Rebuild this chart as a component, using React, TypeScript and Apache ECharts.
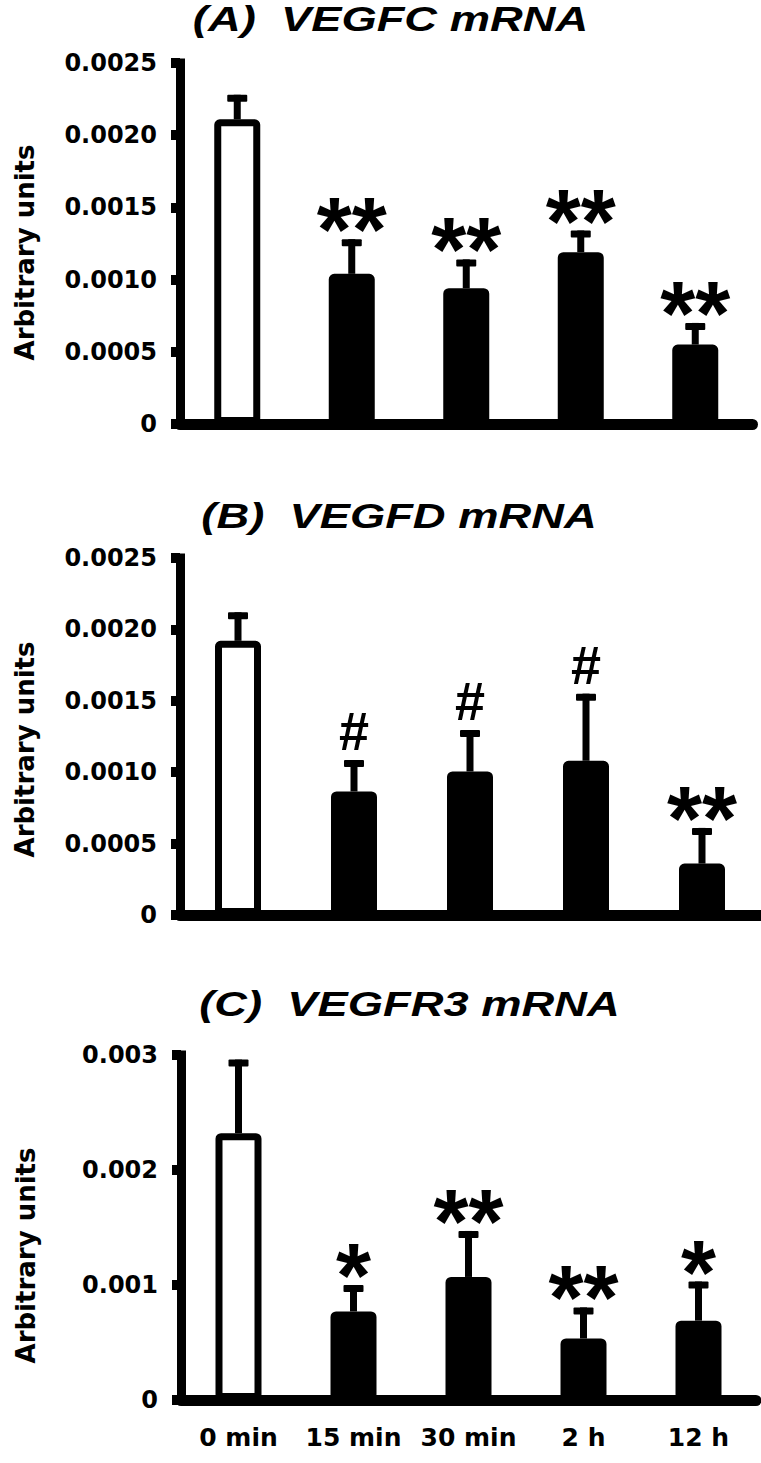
import React, { useEffect, useRef } from "react";
import * as echarts from "echarts";

// ---------- data ----------
const categories = ["0 min", "15 min", "30 min", "2 h", "12 h"];

const vegfcMean = [0.00211, 0.00104, 0.00094, 0.00119, 0.00055];
const vegfcErr = [0.00017, 0.00024, 0.0002, 0.00015, 0.00015];
const vegfcSig = ["", "**", "**", "**", "**"];

const vegfdMean = [0.00192, 0.000865, 0.001005, 0.00108, 0.00036];
const vegfdErr = [0.0002, 0.00022, 0.00029, 0.00047, 0.00025];
const vegfdSig = ["", "#", "#", "#", "**"];

const vegfr3Mean = [0.00232, 0.00077, 0.00107, 0.000535, 0.00069];
const vegfr3Err = [0.00064, 0.00023, 0.0004, 0.00027, 0.00034];
const vegfr3Sig = ["", "*", "**", "**", "*"];

const ticksAB = ["0", "0.0005", "0.0010", "0.0015", "0.0020", "0.0025"];
const ticksC = ["0", "0.001", "0.002", "0.003"];

const titles = ["(A)  VEGFC mRNA", "(B)  VEGFD mRNA", "(C)  VEGFR3 mRNA"];
const yName = "Arbitrary units";

// ---------- layout ----------
const panels = [
  {
    mean: vegfcMean, err: vegfcErr, sig: vegfcSig, ticks: ticksAB,
    max: 0.0025, interval: 0.0005,
    grid: { left: 180, top: 63, width: 572.5, height: 361 },
    titlePos: [390.5, 19], namePad: 18, showX: false,
  },
  {
    mean: vegfdMean, err: vegfdErr, sig: vegfdSig, ticks: ticksAB,
    max: 0.0025, interval: 0.0005,
    grid: { left: 180, top: 558, width: 580, height: 357 },
    titlePos: [399, 516], namePad: 26, showX: false,
  },
  {
    mean: vegfr3Mean, err: vegfr3Err, sig: vegfr3Sig, ticks: ticksC,
    max: 0.003, interval: 0.001,
    grid: { left: 181, top: 1055, width: 575, height: 345 },
    titlePos: [409.5, 1003.5], namePad: 56, showX: true,
  },
];

const markStyle = (mark: string) =>
  mark.indexOf("#") >= 0
    ? { fontSize: 54, dy: -29 }
    : { fontSize: 90, dy: -9 };

export default function App() {
  const ref = useRef<HTMLDivElement>(null);

  useEffect(() => {
    if (!ref.current) return;
    const chart = echarts.init(ref.current, null, { renderer: "svg" });

    const grid: any[] = [];
    const xAxis: any[] = [];
    const yAxis: any[] = [];
    const series: any[] = [];
    const graphic: any[] = [];

    panels.forEach((p, k) => {
      grid.push({ ...p.grid, containLabel: false, outerBoundsMode: "none" });
      xAxis.push({
        type: "category",
        gridIndex: k,
        data: categories,
        axisLine: { lineStyle: { color: "#000", width: 11 } },
        axisTick: { show: false },
        axisLabel: {
          show: p.showX,
          interval: 0,
          color: "#000",
          fontFamily: "DejaVu Sans",
          fontWeight: "bold",
          fontSize: 25,
          margin: 25,
        },
      });
      yAxis.push({
        type: "value",
        gridIndex: k,
        min: 0,
        max: p.max,
        interval: p.interval,
        splitLine: { show: false },
        axisLine: { show: true, lineStyle: { color: "#000", width: 9, cap: "square" } },
        axisTick: { show: true, length: 9, lineStyle: { color: "#000", width: 10 } },
        axisLabel: {
          color: "#000",
          fontFamily: "DejaVu Sans",
          fontWeight: "bold",
          fontSize: 24,
          margin: 23,
          formatter: (_v: number, i: number) => p.ticks[i],
        },
        name: yName,
        nameLocation: "middle",
        nameRotate: 90,
        nameGap: 142,
        nameTextStyle: {
          color: "#000",
          fontFamily: "DejaVu Sans",
          fontWeight: "bold",
          fontSize: 26,
          padding: [0, p.namePad, 0, 0],
        },
      });
      series.push({
        type: "bar",
        xAxisIndex: k,
        yAxisIndex: k,
        barWidth: 46,
        itemStyle: { borderColor: "#000", borderWidth: 7, borderRadius: 2 },
        data: p.mean.map((m, i) => ({
          value: m,
          itemStyle: { color: i === 0 ? "#fff" : "#000" },
        })),
        z: 2,
      });
      series.push({
        type: "custom",
        xAxisIndex: k,
        yAxisIndex: k,
        z: 3,
        data: p.mean.map((m, i) => [i, m, p.err[i]]),
        renderItem: (params: any, api: any) => {
          const i = api.value(0);
          const m = api.value(1);
          const e = api.value(2);
          const top = api.coord([i, m]);
          const cap = api.coord([i, m + e]);
          const mark = p.sig[params.dataIndex];
          const children: any[] = [
            {
              type: "rect",
              shape: { x: top[0] - 3.5, y: cap[1], width: 7, height: top[1] - cap[1] },
              style: { fill: "#000" },
            },
            {
              type: "rect",
              shape: { x: cap[0] - 10, y: cap[1], width: 20, height: 7, r: 1 },
              style: { fill: "#000" },
            },
          ];
          if (mark) {
            const ms = markStyle(mark);
            children.push({
              type: "text",
              x: cap[0],
              y: cap[1] + ms.dy,
              style: {
                text: mark,
                fill: "#000",
                fontFamily: "Liberation Sans",
                fontWeight: "bold",
                fontSize: ms.fontSize,
                align: "center",
                verticalAlign: "middle",
              },
            });
          }
          return { type: "group", children };
        },
      });
      graphic.push({
        type: "text",
        x: p.titlePos[0],
        y: p.titlePos[1],
        scaleX: 1.295,
        style: {
          text: titles[k],
          fill: "#000",
          fontFamily: "Liberation Sans",
          fontWeight: "bold",
          fontStyle: "italic",
          fontSize: 35,
          lineHeight: 35,
          align: "center",
          verticalAlign: "middle",
        },
      });
    });

    chart.setOption({
      animation: false,
      backgroundColor: "#fff",
      grid,
      xAxis,
      yAxis,
      series,
      graphic,
    });

    return () => chart.dispose();
  }, []);

  return (
    <div
      ref={ref}
      style={{ position: "absolute", left: 0, top: 0, width: 761, height: 1463, background: "#fff" }}
    />
  );
}
